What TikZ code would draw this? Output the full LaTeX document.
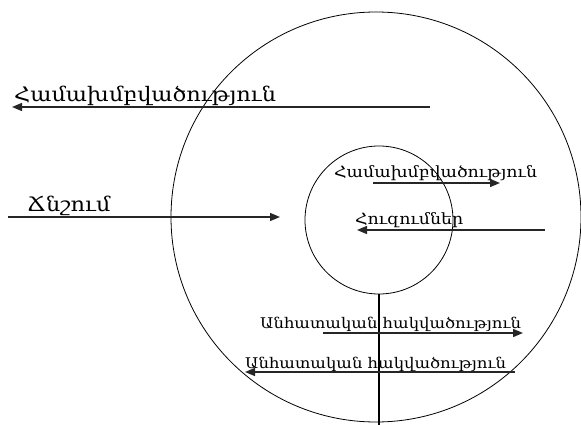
\documentclass[tikz,border=0pt]{standalone}
\usepackage{fontspec}
\newfontfamily\armfont[Script=Armenian, FakeStretch=1.12]{DejaVu Serif}
\usetikzlibrary{arrows.meta, positioning}
\tikzset{
    ring/.style = {circle, draw=black, line width=0.8pt, inner sep=0pt},
    flow/.style = {line width=1.4pt, draw=black!85, -{Triangle[length=10pt,width=8pt]}},
    biglabel/.style = {font=\armfont\fontsize{20}{20}\selectfont, inner sep=0pt, anchor=base west},
    midlabel/.style = {font=\armfont\fontsize{15.5}{15.5}\selectfont, inner sep=0pt, anchor=base west},
    smalllabel/.style = {font=\armfont\fontsize{14.7}{14.7}\selectfont, inner sep=0pt, anchor=base west}
}
\begin{document}
\begin{tikzpicture}[x=1pt, y=-1pt]
        \useasboundingbox (0,0) rectangle (581,425);
        \clip (0,0) rectangle (581,425);

        % Circles
        \node (outer) [ring, minimum size=410pt] at (376,217) {};
        \node (inner) [ring, minimum size=148pt] at (379,220) {};
        \coordinate (stem) at (379,425);
        \draw [line width=1.2pt] (inner.south) -- (stem);

        % Outside arrows
        \coordinate (cohStart) at (430,107);
        \coordinate (cohEnd) at (12,107);
        \node (cohLabel) [biglabel] at (14,102) {Համախմբվածություն};
        \coordinate (presStart) at (8,217);
        \coordinate (presEnd) at (280,217);
        \node (presLabel) [biglabel] at (27,211) {Ճնշում};

        % Inner arrows
        \coordinate (innCohStart) at (373,183);
        \coordinate (innCohEnd) at (500,183);
        \node (innCohLabel) [midlabel] at (334,177) {Համախմբվածություն};
        \coordinate (emoStart) at (545,230);
        \coordinate (emoEnd) at (357,230);
        \node (emoLabel) [midlabel] at (355,224) {Հուզումներ};

        % Lower arrows
        \coordinate (indAStart) at (323,333);
        \coordinate (indAEnd) at (523,333);
        \node (indALabel) [smalllabel] at (260,328) {Անհատական հակվածություն};
        \coordinate (indBStart) at (515,372);
        \coordinate (indBEnd) at (245,372);
        \node (indBLabel) [smalllabel] at (245,368) {Անհատական հակվածություն};

        \draw [flow] (cohStart) -- (cohEnd);
        \draw [flow] (presStart) -- (presEnd);
        \draw [flow] (innCohStart) -- (innCohEnd);
        \draw [flow] (emoStart) -- (emoEnd);
        \draw [flow] (indAStart) -- (indAEnd);
        \draw [flow] (indBStart) -- (indBEnd);
\end{tikzpicture}
\end{document}
